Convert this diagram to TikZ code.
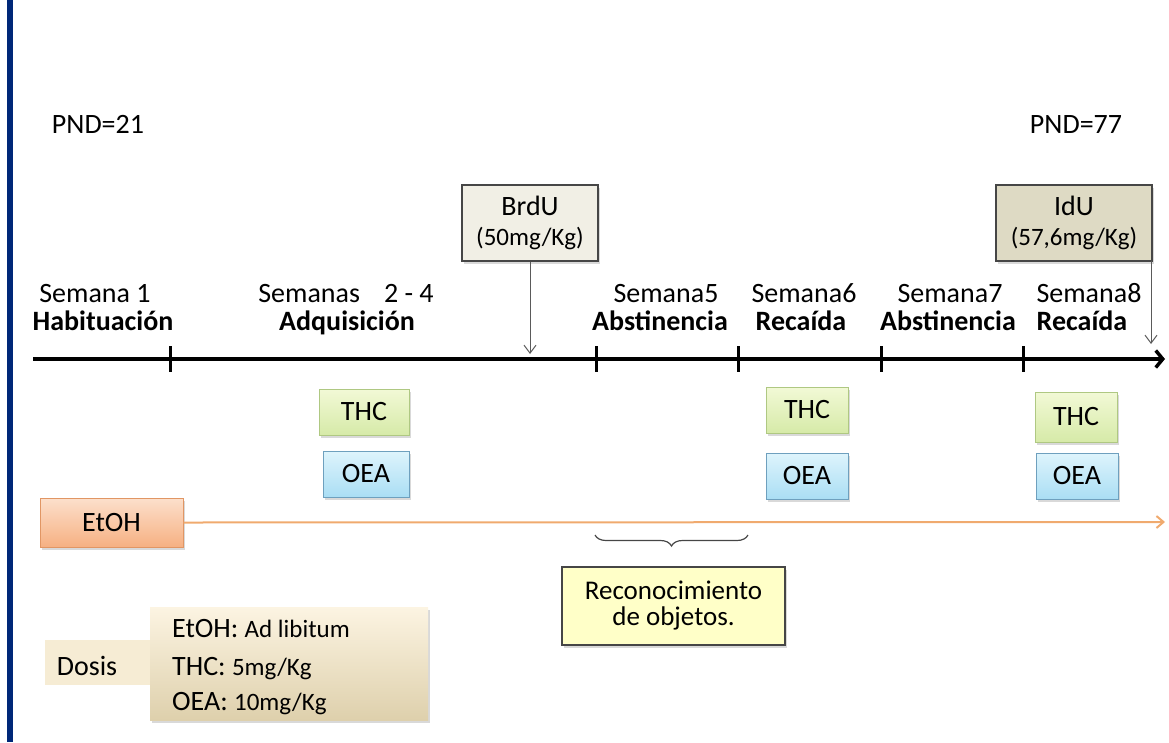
\documentclass[tikz,border=0pt]{standalone}
\usepackage{fontspec}
\setmainfont{Carlito}
\usetikzlibrary{arrows.meta,decorations.pathreplacing,shadows}

\definecolor{navy}{RGB}{0,40,120}
\definecolor{brdufill}{RGB}{241,239,229}
\definecolor{idufill}{RGB}{222,218,196}
\definecolor{boxdraw}{RGB}{70,70,70}
\definecolor{thctop}{RGB}{242,249,214}
\definecolor{thcbot}{RGB}{214,234,168}
\definecolor{thcdraw}{RGB}{175,200,130}
\definecolor{oeatop}{RGB}{222,244,252}
\definecolor{oeabot}{RGB}{170,222,244}
\definecolor{oeadraw}{RGB}{110,160,190}
\definecolor{etohtop}{RGB}{252,224,204}
\definecolor{etohbot}{RGB}{246,176,130}
\definecolor{etohdraw}{RGB}{225,150,100}
\definecolor{orangeline}{RGB}{240,170,110}
\definecolor{recofill}{RGB}{255,255,200}
\definecolor{dosistop}{RGB}{252,244,226}
\definecolor{dosisbot}{RGB}{222,208,172}
\definecolor{dosislab}{RGB}{246,236,212}
\definecolor{arrowgrey}{RGB}{90,90,90}

\newcommand\myBig{\fontsize{28}{30}\selectfont}
\newcommand\mySmall{\fontsize{25}{30}\selectfont}
\newcommand\myReco{\fontsize{27}{26}\selectfont}

\tikzset{
  shadowed/.style={drop shadow={opacity=0.3, shadow xshift=1.5pt, shadow yshift=-2.5pt}},
  lbl/.style={anchor=base, inner sep=0pt, font=\myBig},
  dosebox/.style={draw=boxdraw, line width=1.5pt, align=center, inner sep=0pt, font=\myBig, shadowed},
  thcbox/.style={draw=thcdraw, line width=1pt, top color=thctop, bottom color=thcbot, minimum width=82pt, minimum height=46pt, inner sep=0pt, font=\myBig, shadowed},
  oeabox/.style={draw=oeadraw, line width=1pt, top color=oeatop, bottom color=oeabot, minimum width=82pt, minimum height=46pt, inner sep=0pt, font=\myBig, shadowed},
  thinarrow/.style={arrowgrey, line width=1pt, -{Straight Barb[length=8pt,width=12pt]}}
}

\begin{document}
\begin{tikzpicture}[x=1pt,y=-1pt]
\useasboundingbox (0,0) rectangle (1169,742);

% left blue bar
\draw[navy, line width=6pt] (10,0) -- (10,742);

% PND labels
\node[lbl] (pnd21) at (98,133) {PND=21};
\node[lbl] (pnd77) at (1076,133) {PND=77};

% injection boxes
\node[dosebox, fill=brdufill, minimum width=136pt, minimum height=76pt] (brdu) at (530,223) {BrdU\\{\mySmall (50mg/Kg)}};
\node[dosebox, fill=idufill, minimum width=156pt, minimum height=76pt] (idu) at (1074,223) {IdU\\{\mySmall (57,6mg/Kg)}};

\coordinate (brdutip) at (530,354);
\coordinate (idustart) at (1151,261);
\coordinate (idutip) at (1151,344);
\draw[thinarrow] (brdu.south) -- (brdutip);
\draw[thinarrow] (idustart) -- (idutip);

% timeline
\coordinate (tlstart) at (33,359);
\coordinate (tlend) at (1165,359);
\draw[line width=3.5pt, -{Straight Barb[length=7pt,width=17pt]}] (tlstart) -- (tlend);
\foreach \x in {170,596,738,881,1023} \draw[line width=3pt] (\x,346) -- (\x,372);

% week labels
\node[lbl] (w1a) at (95,302) {Semana 1};
\node[lbl] (w1b) at (103,330) {\bfseries Habituación};
\node[lbl] (w2a) at (346,302) {Semanas\hspace{24pt}2 - 4};
\node[lbl] (w2b) at (347,330) {\bfseries Adquisición};
\node[lbl] (w5a) at (666,302) {Semana5};
\node[lbl] (w5b) at (660,330) {\bfseries Abstinencia};
\node[lbl] (w6a) at (804,302) {Semana6};
\node[lbl] (w6b) at (801,330) {\bfseries Recaída};
\node[lbl] (w7a) at (950,302) {Semana7};
\node[lbl] (w7b) at (948,330) {\bfseries Abstinencia};
\node[lbl] (w8a) at (1089,302) {Semana8};
\node[lbl] (w8b) at (1082,330) {\bfseries Recaída};

% treatment boxes
\node[thcbox, minimum width=90pt] (thc1) at (364,412) {THC};
\node[oeabox, minimum width=86pt] (oea1) at (366,474) {OEA};
\node[thcbox] (thc2) at (807,410) {THC};
\node[oeabox] (oea2) at (807,476) {OEA};
\node[thcbox, minimum height=50pt] (thc3) at (1076,417) {THC};
\node[oeabox] (oea3) at (1077,476) {OEA};

% EtOH
\node[draw=etohdraw, line width=1pt, top color=etohtop, bottom color=etohbot, minimum width=143pt, minimum height=49pt, inner sep=0pt, font=\myBig, shadowed] (etoh) at (111.5,522.5) {EtOH};
\coordinate (etohend) at (1165,522);
\draw[orangeline, line width=2pt, -{Straight Barb[length=7pt,width=12pt]}] (etoh.east) -- (etohend);

% brace and recognition box
\coordinate (brl) at (595,535);
\coordinate (brr) at (748,535);
\draw[decorate, decoration={brace, amplitude=11pt, mirror}, line width=1.2pt, boxdraw] (brl) -- (brr);
\node[dosebox, fill=recofill, minimum width=223pt, minimum height=78pt, font=\myReco] (reco) at (673.5,606) {Reconocimiento\\de objetos.};

% dosis
\node[fill=dosislab, minimum width=105pt, minimum height=45pt, inner sep=0pt] (doslab) at (97.5,662.5) {};
\node[top color=dosistop, bottom color=dosisbot, minimum width=278pt, minimum height=113pt, inner sep=0pt, shadowed] (dosbox) at (289,663.5) {};
\node[lbl] (dosis) at (87,675) {Dosis};
\node[lbl, anchor=base west] (d1) at (172,637) {EtOH: {\mySmall Ad libitum}};
\node[lbl, anchor=base west] (d2) at (172,675) {THC: {\mySmall 5mg/Kg}};
\node[lbl, anchor=base west] (d3) at (172,710) {OEA: {\mySmall 10mg/Kg}};
\end{tikzpicture}
\end{document}
